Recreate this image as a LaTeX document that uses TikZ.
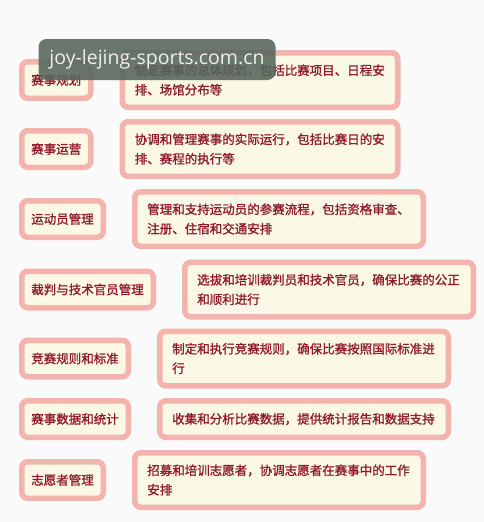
\documentclass[tikz,border=0pt]{standalone}
\usepackage{fontspec}
\usepackage{xcolor}
\usetikzlibrary{positioning}
\newfontfamily\cjk[FakeBold=1.2]{Noto Sans CJK SC}
\newfontfamily\marksans{Open Sans}
\definecolor{pinkline}{HTML}{F4B4AD}
\definecolor{cream}{HTML}{FCF8E6}
\definecolor{darkred}{HTML}{8E1A2A}
\definecolor{markgray}{HTML}{55665B}
\tikzstyle{topic} = [rectangle, rounded corners=6pt, minimum height=36.5pt, inner xsep=9.5pt, anchor=west, draw=pinkline, line width=5.5pt, fill=cream, text=darkred, font=\cjk\fontsize{12.5}{19.5}\selectfont]
\tikzstyle{detail} = [rectangle, rounded corners=6pt, minimum height=54.5pt, inner xsep=12.5pt, text width=263.5pt, align=left, draw=pinkline, line width=5.5pt, fill=cream, text=darkred, font=\cjk\fontsize{12.5}{19.5}\selectfont]
\tikzstyle{watermark} = [rectangle, rounded corners=8pt, minimum width=237pt, minimum height=41pt, fill=markgray, fill opacity=0.88, text opacity=1, text=white!90!markgray, font=\marksans\fontsize{19.5}{21}\selectfont]

\begin{document}
\begin{tikzpicture}[node distance=26pt]
		\fill [white!98!black] (0pt,0pt) rectangle (484pt,-522pt);
		\useasboundingbox (0pt,0pt) rectangle (484pt,-522pt);

		\node (plan) [topic] at (19pt,-80pt) {赛事规划};
		\node (ops) [topic] at (19pt,-149pt) {赛事运营};
		\node (athl) [topic] at (19pt,-219pt) {运动员管理};
		\node (judge) [topic] at (19pt,-289.5pt) {裁判与技术官员管理};
		\node (rules) [topic] at (19pt,-358.5pt) {竞赛规则和标准};
		\node (stats) [topic] at (19pt,-419pt) {赛事数据和统计};
		\node (vol) [topic] at (19pt,-480pt) {志愿者管理};

		\node (plantxt) [detail, right=of plan, text width=250.5pt] {制定赛事的总体规划，包括比赛项目、日程安\\排、场馆分布等};
		\node (opstxt) [detail, right=of ops, text width=250.5pt] {协调和管理赛事的实际运行，包括比赛日的安\\排、赛程的执行等};
		\node (athltxt) [detail, right=of athl] {管理和支持运动员的参赛流程，包括资格审查、\\注册、住宿和交通安排};
		\node (judgetxt) [detail, right=of judge] {选拔和培训裁判员和技术官员，确保比赛的公正\\和顺利进行};
		\node (rulestxt) [detail, right=of rules] {制定和执行竞赛规则，确保比赛按照国际标准进\\行};
		\node (statstxt) [detail, right=of stats, minimum height=36.5pt] {收集和分析比赛数据，提供统计报告和数据支持};
		\node (voltxt) [detail, right=of vol] {招募和培训志愿者，协调志愿者在赛事中的工作\\安排};

		\node (mark) [watermark] at (157pt,-59.5pt) {joy-lejing-sports.com.cn};
	\end{tikzpicture}
\end{document}
